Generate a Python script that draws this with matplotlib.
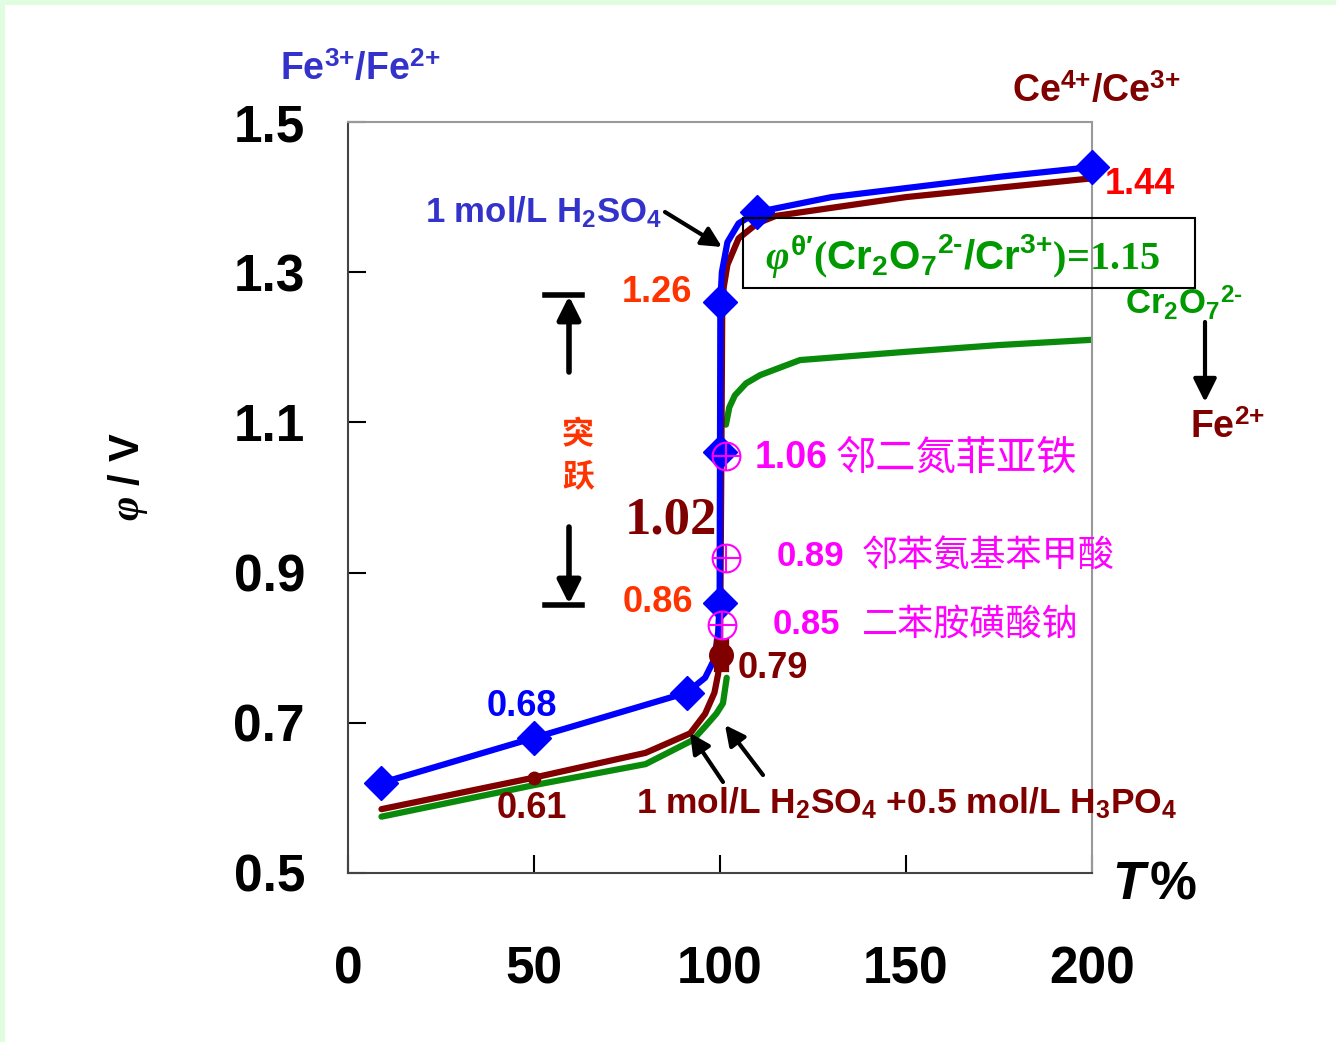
import matplotlib
matplotlib.use("Agg")
import matplotlib.pyplot as plt
from matplotlib.lines import Line2D
from matplotlib.patches import Rectangle

plt.rcParams['font.family'] = ['Liberation Sans', 'Noto Sans CJK SC', 'DejaVu Sans']
plt.rcParams['mathtext.fontset'] = 'custom'
plt.rcParams['mathtext.rm'] = 'Liberation Sans:bold'
plt.rcParams['mathtext.bf'] = 'Liberation Sans:bold'
plt.rcParams['mathtext.it'] = 'Liberation Serif:italic:bold'

# Fe2+ titrated in 1 mol/L H2SO4 (blue)
blue_x = [9, 50, 91, 96, 98.5, 99.5, 99.9, 100, 100.1, 100.5, 102, 105, 110, 130, 150, 175, 200]
blue_y = [0.62, 0.68, 0.74, 0.76, 0.785, 0.82, 0.86, 1.06, 1.26, 1.30, 1.34, 1.365, 1.38, 1.40, 1.412, 1.427, 1.44]
blue_marks = [0, 1, 2, 6, 7, 8, 12, 16]

# Ce4+ in 1 mol/L H2SO4 + 0.5 mol/L H3PO4 (brown)
brown_x = [9, 50, 80, 92, 96, 98.5, 99.5, 100, 100.3, 100.6, 101, 102, 105, 110, 115, 150, 200]
brown_y = [0.585, 0.627, 0.66, 0.686, 0.712, 0.74, 0.765, 0.79, 1.0, 1.25, 1.28, 1.31, 1.345, 1.365, 1.375, 1.40, 1.425]
brown_dot_x = [50, 100.4]
brown_dot_y = [0.627, 0.79]

# Cr2O7 2- (green), two visible pieces
green_lo_x = [9, 50, 80, 92.7, 96, 99, 100.8, 101.8]
green_lo_y = [0.575, 0.617, 0.645, 0.677, 0.695, 0.712, 0.726, 0.76]
green_hi_x = [101.6, 102.5, 104, 107, 110.8, 121.5, 150, 175, 200]
green_hi_y = [1.097, 1.12, 1.136, 1.152, 1.163, 1.183, 1.194, 1.203, 1.21]

# indicators
ind_x = [101.5, 101.5, 100.5]
ind_y = [1.055, 0.92, 0.83]
ind_val = ["1.06", "0.89", "0.85"]
ind_name = ["邻二氮菲亚铁", "邻苯氨基苯甲酸", "二苯胺磺酸钠"]

x_ticks = [0, 50, 100, 150, 200]
y_ticks = [0.5, 0.7, 0.9, 1.1, 1.3, 1.5]

W, H = 1336, 1042
fig = plt.figure(figsize=(W / 100, H / 100), dpi=100)
fig.patch.set_facecolor('white')
fig.add_artist(Rectangle((0, 1 - 5 / H), 1, 5 / H, transform=fig.transFigure, color='#e0fde0', lw=0))
fig.add_artist(Rectangle((0, 0), 5 / W, 1, transform=fig.transFigure, color='#e0fde0', lw=0))

ax = fig.add_axes([348 / W, 1 - 873 / H, (1092 - 348) / W, (873 - 122) / H])
ax.set_xlim(0, 200)
ax.set_ylim(0.5, 1.5)

ax.plot(green_lo_x, green_lo_y, color='#0a8a0a', lw=4.5, solid_capstyle='round', zorder=2)
ax.plot(green_hi_x, green_hi_y, color='#0a8a0a', lw=4.5, solid_capstyle='round', zorder=2)
ax.plot(brown_x, brown_y, color='#800000', lw=4.5, solid_capstyle='round', zorder=3)
ax.plot(blue_x, blue_y, color='#0000ff', lw=4.5, marker='D', ms=17, markevery=blue_marks,
        zorder=4, clip_on=False)
ax.plot(brown_dot_x[:1], brown_dot_y[:1], 'o', color='#800000', ms=9, zorder=5)
ax.plot(brown_dot_x[1:], brown_dot_y[1:], 'o', color='#800000', ms=17, zorder=5)
ax.plot([brown_dot_x[1]] * 2, [brown_dot_y[1] - 0.012, brown_dot_y[1] + 0.012], color='#800000', lw=11, zorder=5)
ax.plot(ind_x, ind_y, 'o', ms=20, mfc='none', mec='#ff00ff', mew=1.5, zorder=6)
ax.plot(ind_x, ind_y, '+', ms=20, color='#ff00ff', mew=1.5, zorder=6)

ax.set_xticks(x_ticks)
ax.set_yticks(y_ticks)
ax.set_yticklabels([f"{v:.1f}" for v in y_ticks])
ax.tick_params(direction='in', length=13, width=1.5, labelsize=37)
ax.tick_params(axis='x', pad=52)
ax.tick_params(axis='y', pad=31)
for lab in ax.get_xticklabels() + ax.get_yticklabels():
    lab.set_fontweight('bold')
for s in ['left', 'bottom']:
    ax.spines[s].set_color('#444444')
    ax.spines[s].set_linewidth(1.5)
for s in ['top', 'right']:
    ax.spines[s].set_color('#999999')
    ax.spines[s].set_linewidth(1.5)


def ftext(px, py, s, **kw):
    kw.setdefault('va', 'center')
    kw.setdefault('ha', 'left')
    kw.setdefault('fontweight', 'bold')
    return fig.text(px / W, 1 - py / H, s, **kw)


def farrow(x0, y0, x1, y1, lw=3, ms=30):
    ax.annotate('', xy=(x1 / W, 1 - y1 / H), xycoords='figure fraction',
                xytext=(x0 / W, 1 - y0 / H), textcoords='figure fraction',
                arrowprops=dict(arrowstyle='-|>', lw=lw, color='black', mutation_scale=ms,
                                shrinkA=0, shrinkB=0), annotation_clip=False)


def fline(xs, ys, lw=4):
    fig.add_artist(Line2D([x / W for x in xs], [1 - y / H for y in ys],
                          transform=fig.transFigure, color='black', lw=lw))


ftext(280, 70, r"Fe$^{3{+}}$/Fe$^{2{+}}$", color='#3333cc', fontsize=27)
ftext(1012, 92, r"Ce$^{4{+}}$/Ce$^{3{+}}$", color='#800000', fontsize=27)
ftext(425, 212, r"1 mol/L H$_2$SO$_4$", color='#3333cc', fontsize=25)
farrow(665, 212, 722, 247)
ftext(1105, 185, "1.44", color='#ff0000', fontsize=26)
ftext(622, 293, "1.26", color='#ff3300', fontsize=26)
ftext(623, 602, "0.86", color='#ff3300', fontsize=26)
ftext(738, 668, "0.79", color='#800000', fontsize=26)
ftext(487, 707, "0.68", color='#0000ff', fontsize=26)
ftext(497, 808, "0.61", color='#800000', fontsize=26)
ftext(625, 520, "1.02", color='#800000', fontsize=38, family='Liberation Serif')

fig.add_artist(Rectangle((743 / W, 1 - 288 / H), (1195 - 743) / W, (288 - 218) / H,
                         transform=fig.transFigure, fill=False, ec='black', lw=1.5))
ftext(765, 256, r"$\varphi^{\mathrm{\theta}\prime}$($\mathrm{Cr_2O_7{}^{2‐}/Cr^{3{+}}}$)=1.15",
      color='#009900', fontsize=29, family='Liberation Serif')
ftext(1125, 303, r"Cr$_2$O$_7{}^{2‐}$", color='#009900', fontsize=25)
farrow(1205, 322, 1205, 402, lw=3, ms=35)
ftext(1190, 428, r"Fe$^{2{+}}$", color='#800000', fontsize=27)

# jump bracket
fline([545, 582], [295, 295])
farrow(569, 372, 569, 296, lw=4, ms=35)
fline([545, 582], [605, 605])
farrow(569, 527, 569, 604, lw=4, ms=35)
ftext(578, 435, "突", color='#ff3300', fontsize=23, ha='center', family='Noto Sans CJK SC')
ftext(578, 477, "跃", color='#ff3300', fontsize=23, ha='center', family='Noto Sans CJK SC')

ind_val_x = [755, 777, 773]
ind_name_x = [836, 862, 862]
ind_text_y = [458, 557, 625]
for vx, nx, ty, v, n in zip(ind_val_x, ind_name_x, ind_text_y, ind_val, ind_name):
    ftext(vx, ty, v, color='#ff00ff', fontsize=27 if v == "1.06" else 25)
    ftext(nx, ty, n, color='#ff00ff', fontsize=29 if v == "1.06" else 26,
          family='Noto Sans CJK SC', fontweight='normal')

ftext(636, 803, r"1 mol/L H$_2$SO$_4$ +0.5 mol/L H$_3$PO$_4$", color='#800000', fontsize=25.5)
farrow(723, 782, 690, 733, lw=3, ms=30)
farrow(763, 775, 725, 725, lw=3, ms=30)

ftext(1112, 885, "T", color='black', fontsize=38, style='italic')
ftext(1150, 885, "%", color='black', fontsize=38)
ftext(128, 477, r"$\varphi$ / V", color='black', fontsize=30, rotation=90, ha='center')

fig.savefig("out.png", dpi=100)
